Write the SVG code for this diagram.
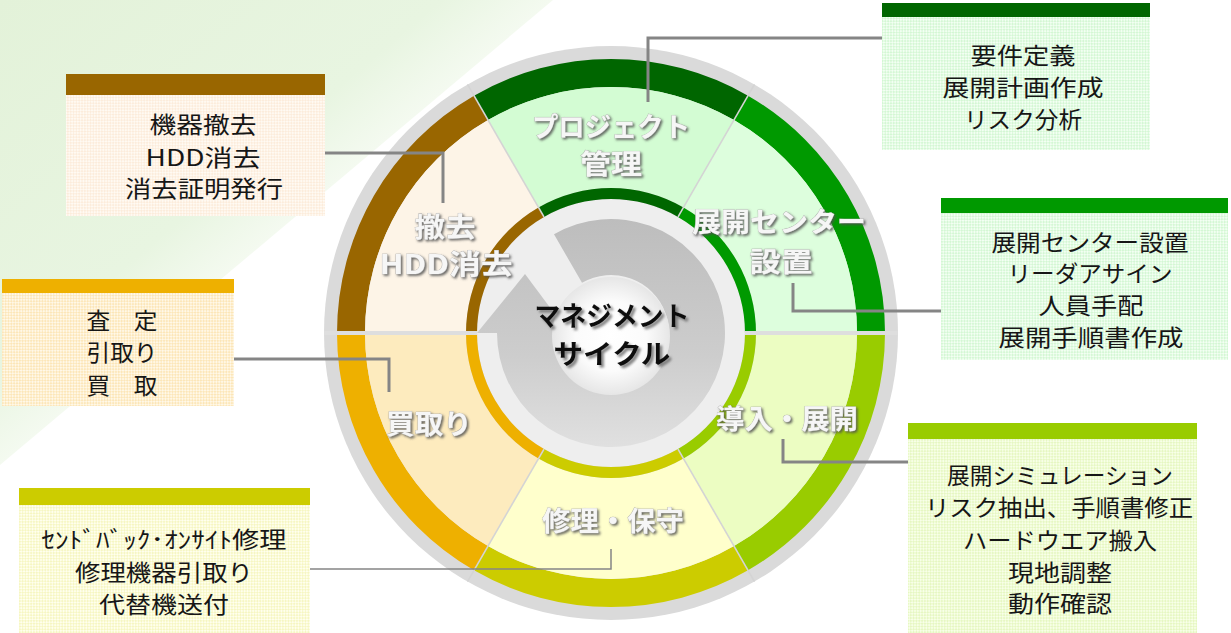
<svg xmlns="http://www.w3.org/2000/svg" width="1231" height="633" viewBox="0 0 1231 633">
<defs>
  <linearGradient id="bgG" gradientUnits="userSpaceOnUse" x1="0" y1="0" x2="229" y2="272">
    <stop offset="0" stop-color="#e3f2d9"/>
    <stop offset="0.8" stop-color="#e8f5e1"/>
    <stop offset="1" stop-color="#f4faf0"/>
  </linearGradient>
  <linearGradient id="diskG" gradientUnits="userSpaceOnUse" x1="0" y1="219" x2="0" y2="447">
    <stop offset="0" stop-color="#bdbdbd"/>
    <stop offset="0.6" stop-color="#cdcdcd"/>
    <stop offset="1" stop-color="#e0e0e0"/>
  </linearGradient>
  <radialGradient id="centerG" cx="0.5" cy="0.5" r="0.5">
    <stop offset="0" stop-color="#ffffff"/>
    <stop offset="0.6" stop-color="#fbfbfb"/>
    <stop offset="1" stop-color="#e6e6e6"/>
  </radialGradient>
  <pattern id="pBrown" width="4" height="4" patternUnits="userSpaceOnUse" patternTransform="rotate(45)">
    <rect width="4" height="4" fill="#fffaf3"/><rect width="2" height="2" fill="#fcecdb"/><rect x="2" y="2" width="2" height="2" fill="#fcecdb"/>
  </pattern>
  <pattern id="pGreen" width="4" height="4" patternUnits="userSpaceOnUse" patternTransform="rotate(45)">
    <rect width="4" height="4" fill="#f3fff3"/><rect width="2" height="2" fill="#d4f7d4"/><rect x="2" y="2" width="2" height="2" fill="#d4f7d4"/>
  </pattern>
  <pattern id="pOrange" width="4" height="4" patternUnits="userSpaceOnUse" patternTransform="rotate(45)">
    <rect width="4" height="4" fill="#fff8e8"/><rect width="2" height="2" fill="#fce6b8"/><rect x="2" y="2" width="2" height="2" fill="#fce6b8"/>
  </pattern>
  <pattern id="pOlive" width="4" height="4" patternUnits="userSpaceOnUse" patternTransform="rotate(45)">
    <rect width="4" height="4" fill="#ffffee"/><rect width="2" height="2" fill="#f6f6c2"/><rect x="2" y="2" width="2" height="2" fill="#f6f6c2"/>
  </pattern>
  <pattern id="pYG" width="4" height="4" patternUnits="userSpaceOnUse" patternTransform="rotate(45)">
    <rect width="4" height="4" fill="#f8ffe8"/><rect width="2" height="2" fill="#e6f7c2"/><rect x="2" y="2" width="2" height="2" fill="#e6f7c2"/>
  </pattern>
  <filter id="emb" x="-10%" y="-30%" width="130%" height="170%">
    <feDropShadow dx="1.6" dy="1.6" stdDeviation="0.8" flood-color="#505050" flood-opacity="0.85"/>
  </filter>
  <filter id="cshadow" x="-10%" y="-30%" width="130%" height="170%">
    <feDropShadow dx="2.5" dy="2.5" stdDeviation="1" flood-color="#6f6f6f" flood-opacity="0.85"/>
  </filter>
  <style>
    .box { font-family: "Noto Sans CJK JP", "Noto Sans", sans-serif; font-size: 23px; fill: #161616; text-anchor: middle; }
    .seg { font-family: "Noto Sans CJK JP", "Noto Sans", sans-serif; font-size: 27px; font-weight: bold; fill: #f6f6f6; stroke: #a8a8a8; stroke-width: 0.6; paint-order: stroke; text-anchor: middle; filter: url(#emb); }
    .ctr { font-family: "Noto Sans CJK JP", "Noto Sans", sans-serif; font-size: 27px; font-weight: bold; fill: #111111; text-anchor: middle; filter: url(#cshadow); }
    .conn { fill: none; stroke: #858585; stroke-width: 3; }
    .sep { stroke: #d4d4d4; stroke-width: 1.6; }
    .hsep { stroke: #dedede; stroke-width: 4; }
  </style>
</defs>

<rect width="1231" height="633" fill="#ffffff"/>
<polygon points="0,0 553,0 0,465" fill="url(#bgG)"/>

<!-- wheel base -->
<g id="wheel">
  <circle cx="611" cy="333" r="287" fill="#dadada"/>
  <circle cx="611" cy="333" r="134" fill="#eeeeee"/>
</g>

<g id="seg-project">
  <path d="M748,95.71 A274,274 0 0 0 474,95.71 L488,119.96 A246,246 0 0 1 734,119.96 Z" fill="#006600"/>
  <path d="M734,119.96 A246,246 0 0 0 488,119.96 L538.5,207.43 A145,145 0 0 1 683.5,207.43 Z" fill="#d3fcd3"/>
  <path d="M683.5,207.43 A145,145 0 0 0 538.5,207.43 L544,216.95 A134,134 0 0 1 678,216.95 Z" fill="#006600"/>
  <text class="seg" x="611" y="137" textLength="158" lengthAdjust="spacingAndGlyphs">プロジェクト</text>
  <text class="seg" x="611" y="174" textLength="62" lengthAdjust="spacingAndGlyphs">管理</text>
</g>

<g id="seg-center">
  <path d="M885,333 A274,274 0 0 0 748,95.71 L734,119.96 A246,246 0 0 1 857,333 Z" fill="#009900"/>
  <path d="M857,333 A246,246 0 0 0 734,119.96 L683.5,207.43 A145,145 0 0 1 756,333 Z" fill="#ddfedd"/>
  <path d="M756,333 A145,145 0 0 0 683.5,207.43 L678,216.95 A134,134 0 0 1 745,333 Z" fill="#009900"/>
  <text class="seg" x="779" y="232" textLength="174" lengthAdjust="spacingAndGlyphs">展開センター</text>
  <text class="seg" x="781" y="272" textLength="63" lengthAdjust="spacingAndGlyphs">設置</text>
</g>

<g id="seg-removal">
  <path d="M474,95.71 A274,274 0 0 0 337,333 L365,333 A246,246 0 0 1 488,119.96 Z" fill="#996600"/>
  <path d="M488,119.96 A246,246 0 0 0 365,333 L466,333 A145,145 0 0 1 538.5,207.43 Z" fill="#fdf4e7"/>
  <path d="M538.5,207.43 A145,145 0 0 0 466,333 L477,333 A134,134 0 0 1 544,216.95 Z" fill="#996600"/>
  <text class="seg" x="445" y="237" textLength="61" lengthAdjust="spacingAndGlyphs">撤去</text>
  <text class="seg" x="446" y="274" textLength="133" lengthAdjust="spacingAndGlyphs">HDD消去</text>
</g>

<g id="seg-purchase">
  <path d="M337,333 A274,274 0 0 0 474,570.29 L488,546.04 A246,246 0 0 1 365,333 Z" fill="#eeb000"/>
  <path d="M365,333 A246,246 0 0 0 488,546.04 L538.5,458.57 A145,145 0 0 1 466,333 Z" fill="#fdebbe"/>
  <path d="M466,333 A145,145 0 0 0 538.5,458.57 L544,449.05 A134,134 0 0 1 477,333 Z" fill="#eeb000"/>
  <text class="seg" x="429" y="434" textLength="86" lengthAdjust="spacingAndGlyphs">買取り</text>
</g>

<g id="seg-repair">
  <path d="M474,570.29 A274,274 0 0 0 748,570.29 L734,546.04 A246,246 0 0 1 488,546.04 Z" fill="#cccc00"/>
  <path d="M488,546.04 A246,246 0 0 0 734,546.04 L683.5,458.57 A145,145 0 0 1 538.5,458.57 Z" fill="#ffffcc"/>
  <path d="M538.5,458.57 A145,145 0 0 0 683.5,458.57 L678,449.05 A134,134 0 0 1 544,449.05 Z" fill="#cccc00"/>
  <text class="seg" x="613" y="531" textLength="142" lengthAdjust="spacingAndGlyphs">修理・保守</text>
</g>

<g id="seg-deploy">
  <path d="M748,570.29 A274,274 0 0 0 885,333 L857,333 A246,246 0 0 1 734,546.04 Z" fill="#99cc00"/>
  <path d="M734,546.04 A246,246 0 0 0 857,333 L756,333 A145,145 0 0 1 683.5,458.57 Z" fill="#ecfdc2"/>
  <path d="M683.5,458.57 A145,145 0 0 0 756,333 L745,333 A134,134 0 0 1 678,449.05 Z" fill="#99cc00"/>
  <text class="seg" x="787" y="429" textLength="142" lengthAdjust="spacingAndGlyphs">導入・展開</text>
</g>

<g id="separators">
  <line class="sep" x1="678" y1="216.95" x2="754.5" y2="84.45"/>
  <line class="sep" x1="544" y1="216.95" x2="467.5" y2="84.45"/>
  <line class="sep" x1="544" y1="449.05" x2="467.5" y2="581.55"/>
  <line class="sep" x1="678" y1="449.05" x2="754.5" y2="581.55"/>
  <line class="hsep" x1="324" y1="333" x2="477" y2="333"/>
  <line class="hsep" x1="745" y1="333" x2="898" y2="333"/>
</g>

<g id="hub">
  <path d="M554,234.27 A114,114 0 1 1 497,333 L553,333 A58,58 0 1 0 582,282.77 Z" fill="url(#diskG)"/>
  <polygon points="477,333 525,274 569,333" fill="url(#diskG)"/>
  <circle cx="611" cy="336" r="59" fill="url(#centerG)"/>
  <text class="ctr" x="612" y="326" textLength="155" lengthAdjust="spacingAndGlyphs">マネジメント</text>
  <text class="ctr" x="612" y="364" textLength="117" lengthAdjust="spacingAndGlyphs">サイクル</text>
</g>

<g id="connectors">
  <polyline class="conn" points="882,38 648,38 648,102"/>
  <polyline class="conn" points="325,153 443,153 443,203"/>
  <polyline class="conn" points="793,283 793,311 941,311"/>
  <polyline class="conn" points="234,359 389,359 389,392"/>
  <polyline class="conn" points="783,439 783,462 908,462"/>
  <polyline class="conn" style="stroke-width:1.5" points="310,569 611,569 611,549"/>
</g>

<g id="box-removal">
  <rect x="66" y="95" width="259" height="121" fill="url(#pBrown)"/>
  <rect x="66" y="74" width="259" height="21" fill="#996600"/>
  <text class="box" x="203" y="133" textLength="107" lengthAdjust="spacingAndGlyphs">機器撤去</text>
  <text class="box" x="203" y="166" textLength="115" lengthAdjust="spacingAndGlyphs">HDD消去</text>
  <text class="box" x="204" y="197" textLength="158" lengthAdjust="spacingAndGlyphs">消去証明発行</text>
</g>

<g id="box-project">
  <rect x="882" y="17" width="268" height="133" fill="url(#pGreen)"/>
  <rect x="882" y="3" width="268" height="14" fill="#006600"/>
  <text class="box" x="1023" y="64" textLength="105" lengthAdjust="spacingAndGlyphs">要件定義</text>
  <text class="box" x="1023" y="96" textLength="161" lengthAdjust="spacingAndGlyphs">展開計画作成</text>
  <text class="box" x="1023" y="128" textLength="118" lengthAdjust="spacingAndGlyphs">リスク分析</text>
</g>

<g id="box-center">
  <rect x="941" y="213" width="287" height="147" fill="url(#pGreen)"/>
  <rect x="941" y="198" width="287" height="15" fill="#009900"/>
  <text class="box" x="1090" y="251" textLength="197" lengthAdjust="spacingAndGlyphs">展開センター設置</text>
  <text class="box" x="1090" y="282" textLength="165" lengthAdjust="spacingAndGlyphs">リーダアサイン</text>
  <text class="box" x="1091" y="314" textLength="105" lengthAdjust="spacingAndGlyphs">人員手配</text>
  <text class="box" x="1091" y="346" textLength="185" lengthAdjust="spacingAndGlyphs">展開手順書作成</text>
</g>

<g id="box-purchase">
  <rect x="2" y="293" width="232" height="113" fill="url(#pOrange)"/>
  <rect x="2" y="279" width="232" height="14" fill="#eeb000"/>
  <text class="box" x="122" y="329" textLength="71" lengthAdjust="spacingAndGlyphs">査　定</text>
  <text class="box" x="122" y="361" textLength="71" lengthAdjust="spacingAndGlyphs">引取り</text>
  <text class="box" x="122" y="394" textLength="71" lengthAdjust="spacingAndGlyphs">買　取</text>
</g>

<g id="box-repair">
  <rect x="19" y="505" width="291" height="128" fill="url(#pOlive)"/>
  <rect x="19" y="488" width="291" height="17" fill="#cccc00"/>
  <text class="box" x="164" y="548" textLength="245" lengthAdjust="spacingAndGlyphs">ｾﾝﾄﾞﾊﾞｯｸ･ｵﾝｻｲﾄ修理</text>
  <text class="box" x="164" y="581" textLength="178" lengthAdjust="spacingAndGlyphs">修理機器引取り</text>
  <text class="box" x="164" y="613" textLength="130" lengthAdjust="spacingAndGlyphs">代替機送付</text>
</g>

<g id="box-deploy">
  <rect x="908" y="439" width="289" height="194" fill="url(#pYG)"/>
  <rect x="908" y="423" width="289" height="16" fill="#99cc00"/>
  <text class="box" x="1060" y="484" textLength="226" lengthAdjust="spacingAndGlyphs">展開シミュレーション</text>
  <text class="box" x="1059" y="516" textLength="268" lengthAdjust="spacingAndGlyphs">リスク抽出、手順書修正</text>
  <text class="box" x="1060" y="549" textLength="194" lengthAdjust="spacingAndGlyphs">ハードウエア搬入</text>
  <text class="box" x="1060" y="581" textLength="104" lengthAdjust="spacingAndGlyphs">現地調整</text>
  <text class="box" x="1060" y="612" textLength="104" lengthAdjust="spacingAndGlyphs">動作確認</text>
</g>
</svg>
